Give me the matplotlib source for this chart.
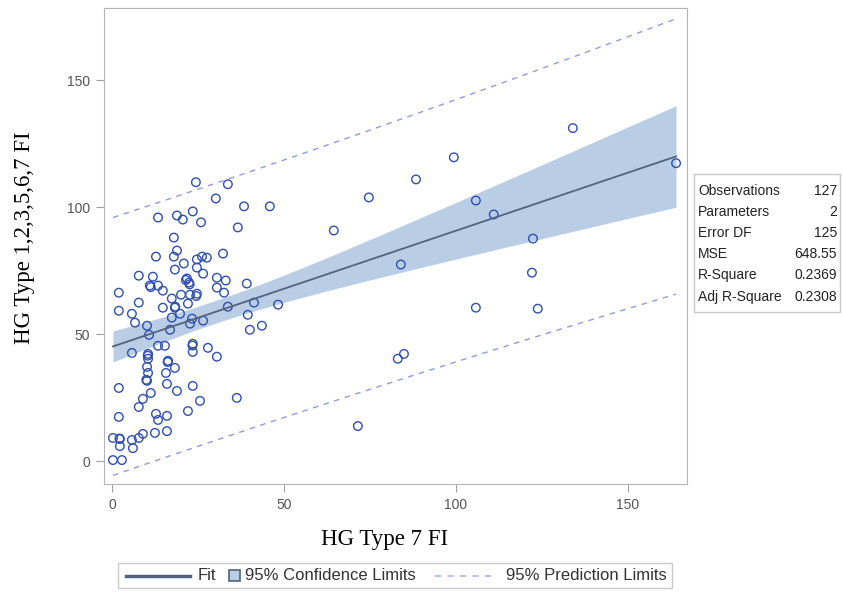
import numpy as np
import matplotlib
matplotlib.use("Agg")
import matplotlib.pyplot as plt
from matplotlib.lines import Line2D
from matplotlib.patches import Rectangle

# data
hg7 = [24.4, 33.7, 30.2, 38.4, 45.9, 13.4, 18.9, 20.6, 23.5, 25.9,
       36.6, 18.0, 18.9, 12.8, 18.0, 24.7, 26.2, 27.6, 32.3, 20.9,
       18.3, 24.7, 26.5, 7.8, 11.9, 11.0, 13.4, 14.8, 21.8, 22.4,
       30.5, 33.1, 30.5, 32.6, 39.2, 2.0, 2.0, 7.8, 14.8, 17.4,
       20.1, 22.7, 24.7, 22.1, 18.3, 5.8, 6.7, 10.2, 17.4, 19.8,
       23.3, 22.7, 26.5, 33.7, 41.3, 48.3, 39.5, 43.6, 40.1, 16.9,
       10.8, 5.8, 10.5, 10.5, 13.4, 15.4, 23.5, 23.5, 27.9, 30.5,
       16.3, 18.3, 15.7, 10.5, 10.2, 2.0, 16.0, 18.9, 23.5, 25.6,
       36.3, 11.3, 9.0, 7.8, 22.1, 2.0, 12.8, 13.4, 16.0, 12.5,
       16.0, 0.3, 2.3, 5.8, 7.8, 9.0, 2.3, 6.1, 0.3, 2.9,
       10.2, 134.0, 99.4, 88.4, 74.7, 64.5, 105.8, 111.0, 122.4, 84.0,
       122.1, 105.8, 123.8, 83.1, 84.9, 71.5, 164.0,
       21.5, 22.6, 11.3, 23.4, 10.4, 16.2, 2.2, 10.0, 24.5, 18.4]
hg_all = [109.8, 109.0, 103.4, 100.3, 100.3, 95.9, 96.7, 95.1, 98.3, 94.0,
          92.0, 88.0, 82.9, 80.5, 80.5, 79.4, 80.5, 80.1, 81.7, 77.8,
          75.4, 76.2, 73.8, 73.0, 72.6, 69.1, 69.1, 67.1, 71.9, 70.3,
          72.2, 71.1, 68.3, 66.3, 69.9, 66.3, 59.2, 62.4, 60.4, 64.0,
          65.5, 65.5, 65.9, 62.0, 60.4, 58.0, 54.5, 53.3, 56.5, 58.0,
          56.1, 54.1, 55.3, 60.8, 62.4, 61.6, 57.6, 53.3, 51.7, 51.7,
          49.7, 42.6, 42.2, 40.3, 45.4, 45.4, 46.2, 43.0, 44.6, 41.1,
          39.5, 36.7, 34.7, 34.7, 31.6, 28.8, 30.4, 27.6, 29.6, 23.7,
          24.9, 26.8, 24.5, 21.3, 19.7, 17.4, 18.6, 16.2, 17.8, 11.1,
          11.8, 9.1, 8.7, 8.3, 9.1, 10.7, 5.9, 5.1, 0.4, 0.4,
          37.1, 131.1, 119.6, 110.9, 103.8, 90.8, 102.6, 97.1, 87.6, 77.4,
          74.2, 60.4, 60.0, 40.3, 42.2, 13.8, 117.3,
          71.3, 69.6, 68.5, 45.5, 41.5, 39.0, 8.9, 32.0, 65.0, 60.8]

# fit statistics as printed in the chart
stat_names = ["Observations", "Parameters", "Error DF", "MSE", "R-Square", "Adj R-Square"]
stat_values = ["127", "2", "125", "648.55", "0.2369", "0.2308"]
n_obs = 127
mse = 648.55
t_crit = 1.979
# fitted line
intercept = 45.0
slope = 0.457

x = np.array(hg7)
y = np.array(hg_all)
xbar = x.mean()
sxx = ((x - xbar) ** 2).sum()

xs = np.linspace(x.min(), x.max(), 200)
yfit = intercept + slope * xs
se_mean = np.sqrt(mse * (1 / n_obs + (xs - xbar) ** 2 / sxx))
se_pred = np.sqrt(mse * (1 + 1 / n_obs + (xs - xbar) ** 2 / sxx))

fit_col = '#536280'
band_col = '#b9cde5'
pred_col = '#8f9be0'

fig = plt.figure(figsize=(8.43, 5.96), dpi=100)
ax = fig.add_axes([0.1234, 0.188, 0.6916, 0.7986])

ax.fill_between(xs, yfit - t_crit * se_mean, yfit + t_crit * se_mean,
                color=band_col, lw=0, zorder=1)
ax.plot(xs, yfit + t_crit * se_pred, ls=(0, (4, 4)), color=pred_col, lw=1, zorder=2)
ax.plot(xs, yfit - t_crit * se_pred, ls=(0, (4, 4)), color=pred_col, lw=1, zorder=2)
ax.scatter(x, y, s=38, facecolors='none', edgecolors='#2f4fb0', lw=1.0, zorder=3)
ax.plot(xs, yfit, color=fit_col, lw=1.3, zorder=4)

ax.set_xlim(-2.3, 167.2)
ax.set_ylim(-9, 178.4)
ax.set_xticks([0, 50, 100, 150])
ax.set_yticks([0, 50, 100, 150])
for sp in ax.spines.values():
    sp.set_color('#b5b5b5')
ax.tick_params(colors='#a0a0a0', labelcolor='#555555', labelsize=10, length=6, pad=4)
for lab in ax.get_xticklabels() + ax.get_yticklabels():
    lab.set_family('Liberation Sans')
ax.set_xlabel("HG Type 7 FI", family='Liberation Serif', fontsize=16.5)
ax.set_ylabel("HG Type 1,2,3,5,6,7 FI", family='Liberation Serif', fontsize=16.5)
ax.xaxis.set_label_coords(0.482, -0.095)
ax.yaxis.set_label_coords(-0.118, 0.517)

def fx(px):
    return px / 843

def fy(py):
    return 1 - py / 596

# statistics box
fig.patches.append(Rectangle((fx(694), fy(312)), fx(146), 138 / 596, transform=fig.transFigure,
                             fill=False, edgecolor='#c8c8c8', lw=1))
for i, (nm, vl) in enumerate(zip(stat_names, stat_values)):
    yy = fy(190.5 + i * 21.2)
    fig.text(fx(698), yy, nm, family='Liberation Sans', fontsize=10, va='center', color='#222222')
    fig.text(fx(837), yy, vl, family='Liberation Sans', fontsize=10,
             va='center', ha='right', color='#222222')

# legend below the plot
fig.patches.append(Rectangle((fx(118), fy(588)), fx(554), 25 / 596, transform=fig.transFigure,
                             fill=False, edgecolor='#c8c8c8', lw=1))
ly = fy(575.5)
fig.lines.append(Line2D([fx(126), fx(190)], [ly, ly], color=fit_col, lw=2.5,
                        transform=fig.transFigure))
fig.text(fx(198), ly, "Fit", family='Liberation Sans', fontsize=12, va='center', color='#333333')
fig.patches.append(Rectangle((fx(229), fy(581)), fx(11), 11 / 596, transform=fig.transFigure,
                             facecolor=band_col, edgecolor=fit_col, lw=1.2))
fig.text(fx(245), ly, "95% Confidence Limits", family='Liberation Sans', fontsize=12,
         va='center', color='#333333')
fig.lines.append(Line2D([fx(435), fx(493)], [ly, ly], color='#b8c0ee', lw=1.5, ls=(0, (3, 3)),
                        transform=fig.transFigure))
fig.text(fx(506), ly, "95% Prediction Limits", family='Liberation Sans', fontsize=12,
         va='center', color='#333333')

fig.savefig("out.png", dpi=100)
